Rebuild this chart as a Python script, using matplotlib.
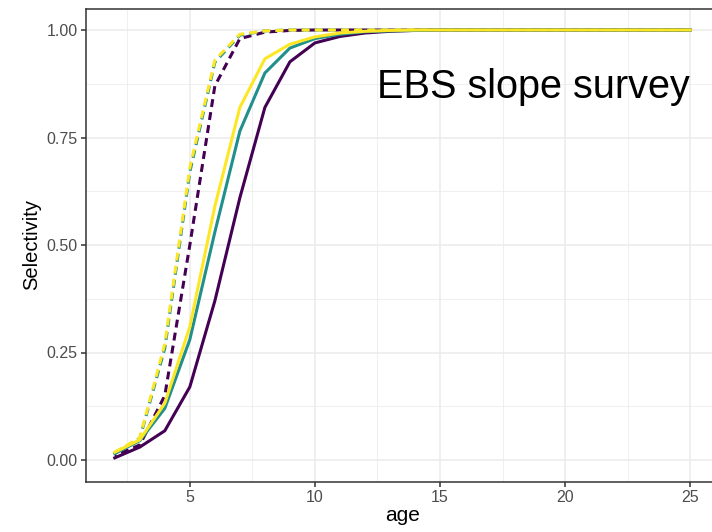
import matplotlib.pyplot as plt
from matplotlib.ticker import MultipleLocator

# ages and selectivity curves
ages = list(range(2, 26))

sel_purple_solid = [0.005, 0.03, 0.068, 0.17, 0.37, 0.61, 0.82, 0.926, 0.97, 0.985, 0.993, 0.997,
                    0.999] + [1.0] * 11
sel_teal_solid = [0.015, 0.045, 0.12, 0.28, 0.53, 0.765, 0.90, 0.958, 0.98, 0.99, 0.996, 0.998,
                  0.999] + [1.0] * 11
sel_yellow_solid = [0.018, 0.047, 0.132, 0.31, 0.59, 0.82, 0.933, 0.967, 0.984, 0.993, 0.997, 0.999,
                    1.0] + [1.0] * 11
sel_purple_dash = [0.01, 0.035, 0.15, 0.50, 0.87, 0.98, 0.995, 0.999] + [1.0] * 16
sel_teal_dash = [0.015, 0.05, 0.26, 0.67, 0.925, 0.988, 0.998] + [1.0] * 17
sel_yellow_dash = [0.018, 0.052, 0.27, 0.68, 0.93, 0.99, 0.998] + [1.0] * 17

purple = '#440154'
teal = '#21908C'
yellow = '#FDE725'

plt.rcParams['font.family'] = ['Liberation Sans', 'DejaVu Sans']

fig = plt.figure(figsize=(7.12, 5.32), dpi=100)
ax = fig.add_axes([86 / 712, 50.5 / 532, 633 / 712, 473 / 532])

lw = 2.2
dash = (0, (2.6, 1.7))
# dashed curves first, solid ones on top
ax.plot(ages, sel_purple_dash, color=purple, lw=lw, linestyle=(2, (2.6, 1.7)))
ax.plot(ages, sel_teal_dash, color=teal, lw=lw, linestyle=dash)
ax.plot(ages, sel_yellow_dash, color=yellow, lw=lw, linestyle=dash)
ax.plot(ages, sel_purple_solid, color=purple, lw=lw)
ax.plot(ages, sel_teal_solid, color=teal, lw=lw)
ax.plot(ages, sel_yellow_solid, color=yellow, lw=lw)

ax.set_xlim(0.85, 26.15)
ax.set_ylim(-0.05, 1.05)
ax.xaxis.set_major_locator(MultipleLocator(5))
ax.xaxis.set_minor_locator(MultipleLocator(2.5))
ax.yaxis.set_major_locator(MultipleLocator(0.25))
ax.yaxis.set_minor_locator(MultipleLocator(0.125))
ax.set_yticks([0, 0.25, 0.5, 0.75, 1.0])
ax.set_yticklabels(['0.00', '0.25', '0.50', '0.75', '1.00'])

ax.grid(True, which='major', color='#EBEBEB', linewidth=1.1)
ax.grid(True, which='minor', color='#EBEBEB', linewidth=0.55)
ax.set_axisbelow(True)

for s in ax.spines.values():
    s.set_color('#333333')
    s.set_linewidth(1.1)

ax.tick_params(which='major', length=3.6, width=1.1, color='#333333', labelcolor='#4D4D4D',
               labelsize=11.5, pad=2.5)
ax.tick_params(which='minor', length=0)

ax.set_xlabel('age', fontsize=15, color='black', labelpad=1)
ax.set_ylabel('Selectivity', fontsize=14.5, color='black', labelpad=4)

ax.text(12.5, 0.842, 'EBS slope survey', fontsize=28.5, va='baseline', ha='left')

fig.savefig('out.png', dpi=100)
